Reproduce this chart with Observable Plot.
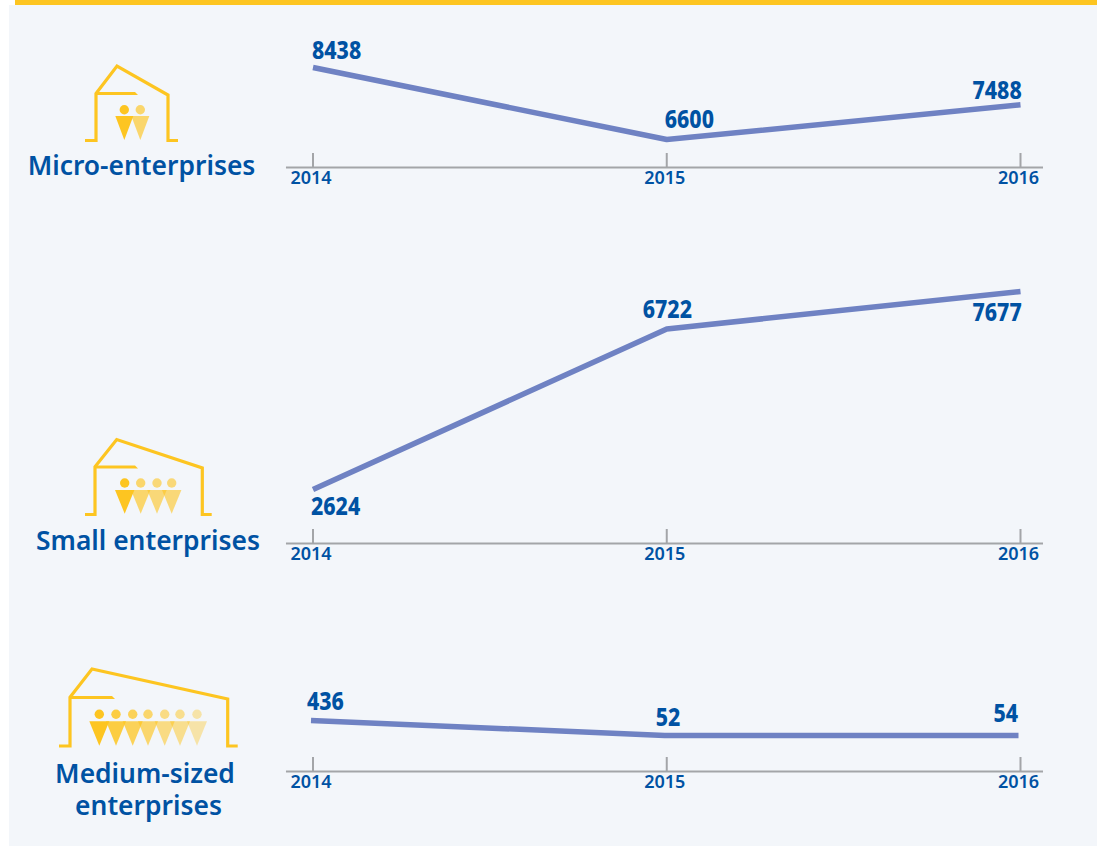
<!DOCTYPE html>
<html><head><meta charset="utf-8">
<script src="https://cdn.jsdelivr.net/npm/d3@7"></script>
<script src="https://cdn.jsdelivr.net/npm/@observablehq/plot@0.6"></script>
<style>
html,body{margin:0;padding:0;background:#fff;width:1097px;height:846px;overflow:hidden;font-family:"Noto Sans",sans-serif}
#panel{position:absolute;left:9px;top:5px;width:1088px;height:841px;background:#f3f6fa}
#bar{position:absolute;left:15px;top:0;width:1082px;height:5px;background:#fdc521}
#icons{position:absolute;left:0;top:0}
.cat{position:absolute;color:#0052a3;font-weight:600;font-size:26.4px;line-height:32px;text-align:center;white-space:nowrap;transform:translateX(-50%)}
.chart{position:absolute;left:0}
.chart svg{overflow:visible;background:transparent!important}
</style></head><body>
<div id="panel"></div><div id="bar"></div>
<svg id="icons" width="1097" height="846" xmlns="http://www.w3.org/2000/svg"></svg>
<div class="cat" style="left:141.5px;top:149px">Micro-enterprises</div>
<div class="cat" style="left:148px;top:524px">Small enterprises</div>
<div class="cat" style="left:145px;top:757px">Medium-sized</div>
<div class="cat" style="left:148.5px;top:789px">enterprises</div>
<div id="charts"></div>
<script>
const years = [2014, 2015, 2016];
const microValues = [8438, 6600, 7488];
const smallValues = [2624, 6722, 7677];
const mediumValues = [436, 52, 54];

const panels = [
  {values: microValues, top: 20, height: 177, baseY: 147, domain: [5887, 9637], lineDx: 0,
   labels: [[-1, -8.5], [-2, -12], [-48, -6]]},
  {values: smallValues, top: 240, height: 333, baseY: 303, domain: [1248, 8978], lineDx: 0,
   labels: [[-2, 25], [-24, -11], [-48, 30]]},
  {values: mediumValues, top: 650, height: 151, baseY: 121, domain: [-866, 2221], lineDx: -2,
   labels: [[-6, -10.5], [-11, -10], [-27, -13]]}
];
const ink = "#0052a3", lineColor = "#6f82c3", axisColor = "#a3a5a8";
const digitWidth = 12.3;

const host = document.getElementById("charts");
panels.forEach(p => {
  const rows = years.map((year, i) => ({year, value: p.values[i], dx: p.labels[i][0], dy: p.labels[i][1]}));
  const tickTop = p.domain[0] + 14 * (p.domain[1] - p.domain[0]) / p.baseY;
  const plot = Plot.plot({
    width: 1097, height: p.height,
    marginTop: 0, marginBottom: p.height - p.baseY, marginLeft: 0, marginRight: 0,
    x: {domain: [2014, 2016], range: [312.5, 1020], axis: null},
    y: {domain: p.domain, axis: null},
    style: {background: "transparent", overflow: "visible"},
    marks: [
      Plot.ruleY([p.domain[0]], {x1: 2013.925, x2: 2016.065, stroke: axisColor, strokeWidth: 2}),
      Plot.ruleX(years, {y1: p.domain[0], y2: tickTop, stroke: axisColor, strokeWidth: 2}),
      Plot.axisX(years, {anchor: "bottom", tickSize: 0, tickPadding: 4, tickFormat: "d", label: null,
        fontSize: 18, fontWeight: 600, fill: ink, fontFamily: "Noto Sans", dx: -2}),
      Plot.line(rows, {x: "year", y: "value", dx: p.lineDx, stroke: lineColor, strokeWidth: 5.5, strokeLinecap: "butt", strokeLinejoin: "miter"}),
      ...rows.map(r => Plot.text([r], {x: "year", y: "value", text: d => String(d.value),
        dx: r.dx, dy: r.dy, textAnchor: "start", lineAnchor: "bottom",
        fontSize: 25, fontWeight: 800, fill: ink, fontFamily: "Noto Sans"}))
    ]
  });
  // the reference sets the value labels in a condensed cut: squeeze the real text to that width
  d3.select(plot).selectAll("text").each(function() {
    const label = this.parentNode.getAttribute("aria-label") || "";
    if (label.includes("axis")) return;
    this.setAttribute("textLength", this.textContent.length * digitWidth);
    this.setAttribute("lengthAdjust", "spacingAndGlyphs");
  });
  const wrap = document.createElement("div");
  wrap.className = "chart";
  wrap.style.top = p.top + "px";
  wrap.appendChild(plot);
  host.appendChild(wrap);
});

// Decorative pictograms
const gold = "#fdc521";
const icons = [
  {house: "85,140.5 96,140.5 96,93.5 117,66 168,95 168,140.5 178,140.5", roof: [95,93.5,135],
   people: [124.3,140.3], cy: 109.7, triTop: 116, apex: 140, hw: 9, alpha: [1,.65]},
  {house: "85,514.5 95,514.5 95,466.7 116.7,439.5 202.3,468 202.3,514.5 211.7,514.5", roof: [95,467,135],
   people: [124.7,140.7,157,171.7], cy: 483, triTop: 490, apex: 513.7, hw: 9.7, alpha: [1,.65,.6,.6]},
  {house: "59,746 70,746 70,697.3 92,669 227.7,699 227.7,746 237.7,746", roof: [70,697.5,112],
   people: [99.3,116,132.7,148,164.7,180,197], cy: 714.3, triTop: 721.3, apex: 745.7, hw: 10, alpha: [1,.85,.75,.65,.55,.5,.38]}
];
const svg = d3.select("#icons");
icons.forEach(ic => {
  svg.append("polyline").attr("points", ic.house).attr("fill", "none").attr("stroke", gold).attr("stroke-width", 3.2).attr("stroke-linejoin", "miter");
  svg.append("path").attr("d", `M${ic.roof[0]},${ic.roof[1]-1.5}L${ic.roof[2]},${ic.roof[1]-1.5}L${ic.roof[2]+3},${ic.roof[1]+1.5}L${ic.roof[0]},${ic.roof[1]+1.5}Z`).attr("fill", gold);
  ic.people.forEach((x, i) => {
    svg.append("circle").attr("cx", x).attr("cy", ic.cy).attr("r", 4.7).attr("fill", gold).attr("opacity", ic.alpha[i]);
    svg.append("path").attr("d", `M${x-ic.hw},${ic.triTop}L${x+ic.hw},${ic.triTop}L${x},${ic.apex}Z`).attr("fill", gold).attr("opacity", ic.alpha[i]);
  });
});
</script>
</body></html>
